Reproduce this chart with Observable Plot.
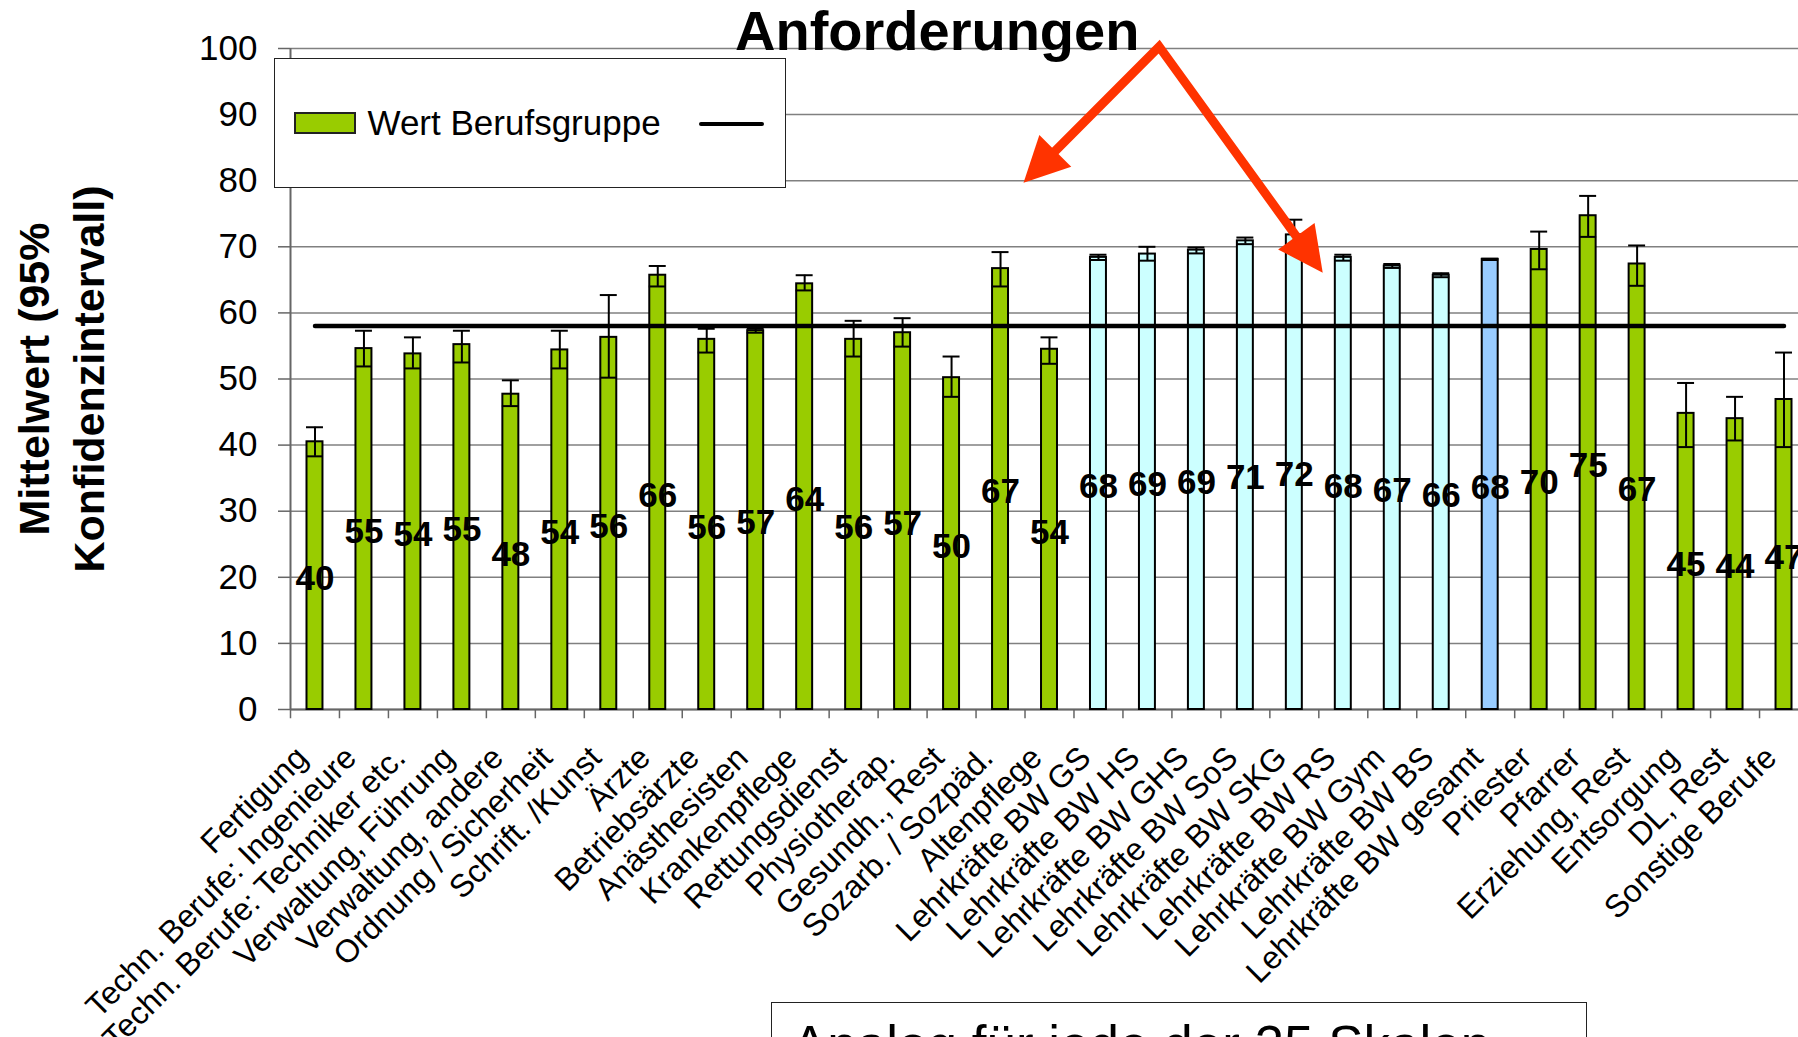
<!DOCTYPE html>
<html>
<head>
<meta charset="utf-8">
<script src="https://cdn.jsdelivr.net/npm/d3@7"></script>
<script src="https://cdn.jsdelivr.net/npm/@observablehq/plot@0.6"></script>
<style>
  html, body { margin: 0; padding: 0; background: #fff; overflow: hidden; width: 1798px; height: 1037px; }
  #wrap { position: relative; width: 1798px; height: 1037px; overflow: hidden; font-family: "Liberation Sans", Arial, sans-serif; }
  #chart { position: absolute; left: 0; top: 0; width: 1830px; }
  #chart svg { max-width: none !important; }
  #title { position: absolute; left: 735px; top: 3px; font-weight: bold; font-size: 56px; line-height: 56px; white-space: nowrap; }
  #legend { position: absolute; left: 274px; top: 58px; width: 512px; height: 130px; box-sizing: border-box; border: 1.5px solid #222; background: #fff; }
  #legend .sw { position: absolute; left: 18.5px; top: 52.5px; width: 62px; height: 22px; box-sizing: border-box; border: 2px solid #222; }
  #legend .lt { position: absolute; left: 92.5px; top: 46px; font-size: 35px; line-height: 35px; white-space: nowrap; }
  #legend .ln { position: absolute; left: 423.5px; top: 62.5px; width: 65px; height: 4.5px; background: #000; border-radius: 2px; }
  #note { position: absolute; left: 771px; top: 1002px; width: 816px; height: 90px; box-sizing: border-box; border: 1.5px solid #222; background: #fff; }
  #note span { position: absolute; left: 20px; top: 15px; font-size: 53px; line-height: 53px; white-space: nowrap; }
</style>
</head>
<body>
<div id="wrap">
  <div id="chart"></div>
  <div id="title"></div>
  <div id="legend"><div class="sw"></div><div class="lt"></div><div class="ln"></div></div>
  <div id="note"><span></span></div>
</div>
<script>
// ---------------- data ----------------
const categories = [
  "Fertigung", "Techn. Berufe: Ingenieure", "Techn. Berufe: Techniker etc.", "Verwaltung, Führung",
  "Verwaltung, andere", "Ordnung / Sicherheit", "Schrift. /Kunst", "Ärzte", "Betriebsärzte",
  "Anästhesisten", "Krankenpflege", "Rettungsdienst", "Physiotherap.", "Gesundh., Rest",
  "Sozarb. / Sozpäd.", "Altenpflege", "Lehrkräfte BW GS", "Lehrkräfte BW HS", "Lehrkräfte BW GHS",
  "Lehrkräfte BW SoS", "Lehrkräfte BW SKG", "Lehrkräfte BW RS", "Lehrkräfte BW Gym",
  "Lehrkräfte BW BS", "Lehrkräfte BW gesamt", "Priester", "Pfarrer", "Erziehung, Rest",
  "Entsorgung", "DL, Rest", "Sonstige Berufe"
];
const means  = [40.5, 54.6, 53.8, 55.2, 47.7, 54.4, 56.3, 65.7, 56.0, 57.3, 64.4, 56.0, 57.0, 50.2, 66.7, 54.5,
                68.4, 68.9, 69.5, 70.9, 71.8, 68.4, 67.1, 65.7, 68.1, 69.6, 74.7, 67.4, 44.8, 44.0, 46.9];
const ciHigh = [42.7, 57.3, 56.3, 57.3, 49.8, 57.3, 62.7, 67.1, 57.6, 57.6, 65.7, 58.8, 59.2, 53.4, 69.2, 56.3,
                68.8, 70.0, 69.9, 71.4, 74.1, 68.8, 67.4, 66.0, 68.2, 72.3, 77.7, 70.2, 49.4, 47.3, 54.0];
const ciLow  = [38.3, 51.9, 51.6, 52.5, 45.9, 51.6, 50.2, 64.0, 54.0, 57.0, 63.4, 53.4, 54.9, 47.3, 64.0, 52.3,
                68.0, 67.9, 69.0, 70.4, 69.5, 67.9, 66.8, 65.4, 68.0, 66.6, 71.5, 64.1, 39.7, 40.7, 39.7];
const valueLabels = [40, 55, 54, 55, 48, 54, 56, 66, 56, 57, 64, 56, 57, 50, 67, 54,
                     68, 69, 69, 71, 72, 68, 67, 66, 68, 70, 75, 67, 45, 44, 47];
const groups = [
  "Beruf", "Beruf", "Beruf", "Beruf", "Beruf", "Beruf", "Beruf", "Beruf", "Beruf", "Beruf", "Beruf",
  "Beruf", "Beruf", "Beruf", "Beruf", "Beruf",
  "Lehrkräfte", "Lehrkräfte", "Lehrkräfte", "Lehrkräfte", "Lehrkräfte", "Lehrkräfte", "Lehrkräfte", "Lehrkräfte",
  "Lehrkräfte gesamt",
  "Beruf", "Beruf", "Beruf", "Beruf", "Beruf", "Beruf"
];
const groupNames  = ["Beruf", "Lehrkräfte", "Lehrkräfte gesamt"];
const groupColors = ["#99CC00", "#CCFFFF", "#99CCFF"];
const referenceValue = 58;
const yTicks = [0, 10, 20, 30, 40, 50, 60, 70, 80, 90, 100];

const titleText = "Anforderungen";
const yTitle = "Mittelwert (95%\nKonfidenzintervall)";
const legendLabel = "Wert Berufsgruppe";
const noteText = "Analog für jede der 25 Skalen";

// annotation arrows (position in category units from the left edge, value on y)
const arrowApex = { pos: 17.75, value: 100.2 };
const arrowTips = [ { pos: 14.98, value: 79.6 }, { pos: 21.09, value: 66.0 } ];

// ---------------- build ----------------
const data = categories.map((c, i) => ({
  category: c, mean: means[i], hi: ciHigh[i], lo: ciLow[i], label: valueLabels[i], group: groups[i]
}));

const FONT = "'Liberation Sans', Arial, sans-serif";
const W = 1830, H = 1037, ML = 290, MR = 22, MT = 48, MB = 328;
const step = (W - ML - MR) / categories.length;

const chart = Plot.plot({
  width: W, height: H,
  marginLeft: ML, marginRight: MR, marginTop: MT, marginBottom: MB,
  style: { fontFamily: FONT, fontSize: "32px", color: "black", background: "transparent", overflow: "visible", maxWidth: "none" },
  x: { type: "band", domain: categories, padding: 0, align: 0.5, label: null },
  y: { domain: [0, 100], label: null },
  color: { domain: groupNames, range: groupColors },
  marks: [
    Plot.ruleY(yTicks, { y: d => d, stroke: "#808080", strokeWidth: 1.5 }),
    Plot.ruleX([categories[0]], { x: d => d, y1: 0, y2: 100, dx: -step / 2, stroke: "#666", strokeWidth: 2 }),
    Plot.ruleY([0], { y: d => d, stroke: "#666", strokeWidth: 2 }),
    Plot.ruleX(categories, { x: d => d, y1: 0, y2: -1.4, dx: -step / 2, stroke: "#666", strokeWidth: 1.5 }),
    Plot.ruleX([categories[categories.length - 1]], { x: d => d, y1: 0, y2: -1.4, dx: step / 2, stroke: "#666", strokeWidth: 1.5 }),
    Plot.axisY({ ticks: yTicks, tickSize: 12, tickPadding: 21, fontSize: 35, stroke: "#666", strokeWidth: 1.5, label: null }),
    Plot.axisX({ tickSize: 0, tickPadding: 43, tickRotate: -45, textAnchor: "end", lineAnchor: "middle", dx: -13, fontSize: 32, label: null }),
    Plot.barY(data, { x: "category", y: "mean", fill: "group", stroke: "black", strokeWidth: 2, insetLeft: 16.5, insetRight: 16.5 }),
    Plot.lineY(data, { x: "category", y: () => referenceValue, stroke: "black", strokeWidth: 4.5, strokeLinecap: "round" }),
    Plot.ruleX(data, { x: "category", y1: "lo", y2: "hi", stroke: "black", strokeWidth: 2 }),
    Plot.tickY(data, { x: "category", y: "hi", stroke: "black", strokeWidth: 2, insetLeft: 16, insetRight: 16 }),
    Plot.tickY(data, { x: "category", y: "lo", stroke: "black", strokeWidth: 2, insetLeft: 16, insetRight: 16 }),
    Plot.text(data, { x: "category", y: d => d.mean / 2, text: "label", fontSize: 35, fontWeight: "bold", dy: 3, fill: "black" }),
    Plot.text([yTitle], { text: d => d, frameAnchor: "left", textAnchor: "middle", lineAnchor: "middle", rotate: -90, dx: -232, fontSize: 43, fontWeight: "bold", lineHeight: 1.28, fill: "black" })
  ]
});
chart.style.maxWidth = "none";
document.getElementById("chart").appendChild(chart);

// arrows drawn in the plot's coordinate system
const xs = chart.scale("x"), ys = chart.scale("y");
const st = xs.step || xs.bandwidth || step;
let start = xs.apply(categories[0]);
if (Math.abs(start - ML) > st / 4) start -= st / 2;
const px = p => start + p * st;
const py = v => ys.apply(v);

const svg = d3.select(chart);
const g = svg.append("g").attr("fill", "#FF3300").attr("stroke", "#FF3300");
const A = [px(arrowApex.pos), py(arrowApex.value)];
const headLen = 45, headHalf = 22.5;
const bases = [];
arrowTips.forEach(t => {
  const T = [px(t.pos), py(t.value)];
  const dx = T[0] - A[0], dy = T[1] - A[1];
  const L = Math.hypot(dx, dy);
  const ux = dx / L, uy = dy / L;
  const B = [T[0] - ux * headLen, T[1] - uy * headLen];
  bases.push([B[0] + ux * 4, B[1] + uy * 4]);
  g.append("polygon")
    .attr("stroke", "none")
    .attr("points", [T, [B[0] - uy * headHalf, B[1] + ux * headHalf], [B[0] + uy * headHalf, B[1] - ux * headHalf]].map(p => p.join(",")).join(" "));
});
g.append("polyline")
  .attr("fill", "none")
  .attr("stroke-width", 9)
  .attr("stroke-linejoin", "miter")
  .attr("stroke-miterlimit", 10)
  .attr("points", [bases[0], A, bases[1]].map(p => p.join(",")).join(" "));

// text elements
document.getElementById("title").textContent = titleText;
document.querySelector("#legend .sw").style.background = groupColors[0];
document.querySelector("#legend .lt").textContent = legendLabel;
document.querySelector("#note span").textContent = noteText;
</script>
</body>
</html>
